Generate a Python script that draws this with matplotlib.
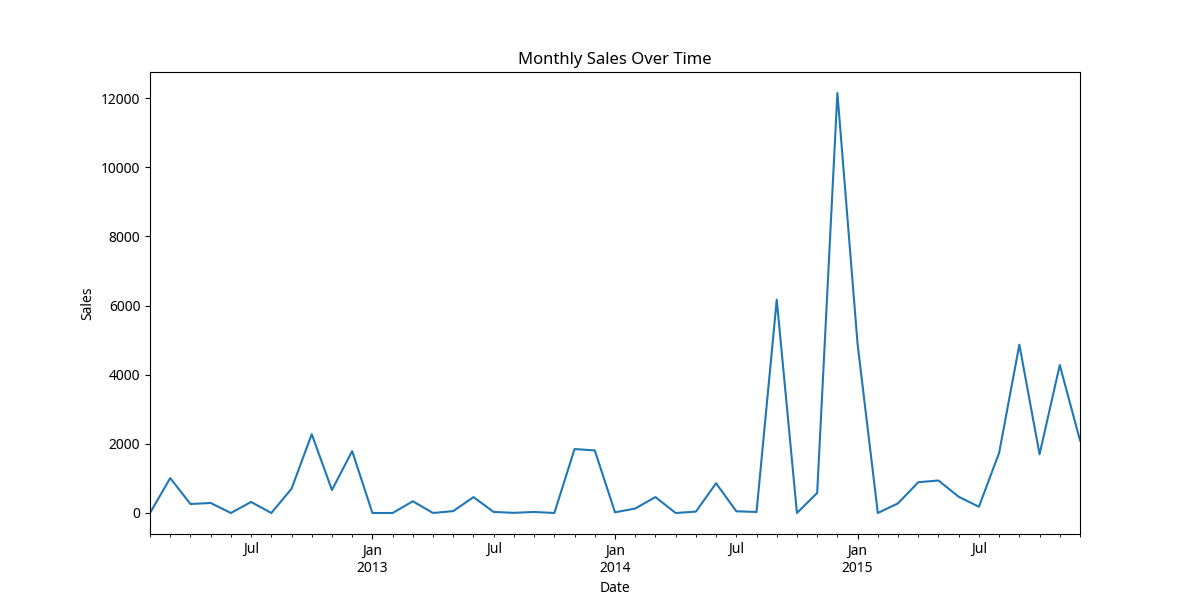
import matplotlib
matplotlib.use("Agg")
import matplotlib.pyplot as plt
import pandas as pd

plt.rcParams['font.family'] = ['Noto Sans', 'DejaVu Sans']

start_month = "2012-02"
end_month = "2015-12"
sales = [0, 1010, 260, 290, 0, 320, 0, 700, 2280, 665, 1790,
         0, 0, 340, 0, 55, 460, 30, 5, 30, 0, 1850, 1810,
         20, 130, 460, 0, 40, 860, 50, 30, 6170, 0, 580, 12150,
         4880, 0, 280, 890, 940, 470, 180, 1740, 4870, 1700, 4280, 2100]

months = pd.period_range(start_month, end_month, freq="M")
series = pd.Series(sales, index=months)

fig, ax = plt.subplots(figsize=(12, 6), dpi=100)
series.plot(ax=ax)
ax.set_title("Monthly Sales Over Time")
ax.set_xlabel("Date")
ax.set_ylabel("Sales")

plt.savefig("out.png")
